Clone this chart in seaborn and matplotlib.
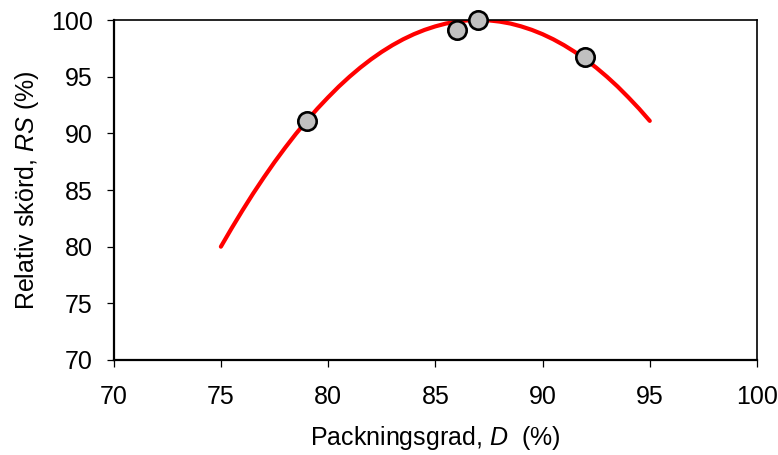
import numpy as np
import pandas as pd
import matplotlib
matplotlib.use("Agg")
import matplotlib.pyplot as plt
import seaborn as sns

# Curve (every half unit of D)
curve_D = [75, 75.5, 76, 76.5, 77, 77.5, 78, 78.5, 79, 79.5, 80, 80.5, 81, 81.5, 82, 82.5,
           83, 83.5, 84, 84.5, 85, 85.5, 86, 86.5, 87, 87.5, 88, 88.5, 89, 89.5, 90, 90.5,
           91, 91.5, 92, 92.5, 93, 93.5, 94, 94.5, 95]
curve_RS = [80.0, 81.62, 83.18, 84.68, 86.10, 87.46, 88.74, 89.96, 91.10, 92.18, 93.18, 94.13,
            95.0, 95.80, 96.53, 97.19, 97.78, 98.30, 98.75, 99.13, 99.44, 99.69, 99.86, 99.97,
            100.0, 99.97, 99.86, 99.69, 99.44, 99.13, 98.75, 98.30, 97.78, 97.19, 96.53, 95.80,
            95.0, 94.13, 93.18, 92.18, 91.10]

# Measured points
obs_D = [79, 86, 87, 92]
obs_RS = [91.1, 99.1, 100.0, 96.7]

x_ticks = [70, 75, 80, 85, 90, 95, 100]
y_ticks = [70, 75, 80, 85, 90, 95, 100]

sns.set_theme(style="white")
plt.rcParams["font.family"] = ["Liberation Sans", "DejaVu Sans"]
plt.rcParams["mathtext.fontset"] = "custom"
plt.rcParams["mathtext.rm"] = "Liberation Sans"
plt.rcParams["mathtext.it"] = "Liberation Sans:italic"

fig = plt.figure(figsize=(7.78, 4.55), dpi=100)
ax = fig.add_axes([0.1461, 0.2088, 0.973 - 0.1461, 0.956 - 0.2088])

curve = pd.DataFrame({"D": curve_D, "RS": curve_RS})
obs = pd.DataFrame({"D": obs_D, "RS": obs_RS})

sns.lineplot(data=curve, x="D", y="RS", ax=ax, color="#FF0000", linewidth=3.0,
             solid_capstyle="round", solid_joinstyle="round", zorder=2)
sns.scatterplot(data=obs, x="D", y="RS", ax=ax, s=175, color="#C0C0C0",
                edgecolor="black", linewidth=1.9, zorder=3, clip_on=False)

ax.set_xlim(70, 100)
ax.set_ylim(70, 100)
ax.set_xticks(x_ticks)
ax.set_yticks(y_ticks)
ax.set_xticklabels([str(t) for t in x_ticks])
ax.set_yticklabels([str(t) for t in y_ticks])

for side in ["left", "bottom"]:
    ax.spines[side].set_linewidth(1.6)
    ax.spines[side].set_color("black")
for side in ["top", "right"]:
    ax.spines[side].set_linewidth(1.2)
    ax.spines[side].set_color("black")

ax.tick_params(axis="both", which="major", direction="out", length=5, width=0.9,
               color="black", labelcolor="black", labelsize=18)
ax.tick_params(axis="x", pad=13)
ax.tick_params(axis="y", pad=10)
ax.xaxis.set_ticks_position("bottom")
ax.yaxis.set_ticks_position("left")

ax.set_xlabel(r"Packningsgrad, $D$  (%)", fontsize=18, color="black", labelpad=11)
ax.set_ylabel(r"Relativ skörd, $RS$ (%)", fontsize=18, color="black", labelpad=7)
ax.grid(False)

fig.savefig("out.png", dpi=100, facecolor="white")
